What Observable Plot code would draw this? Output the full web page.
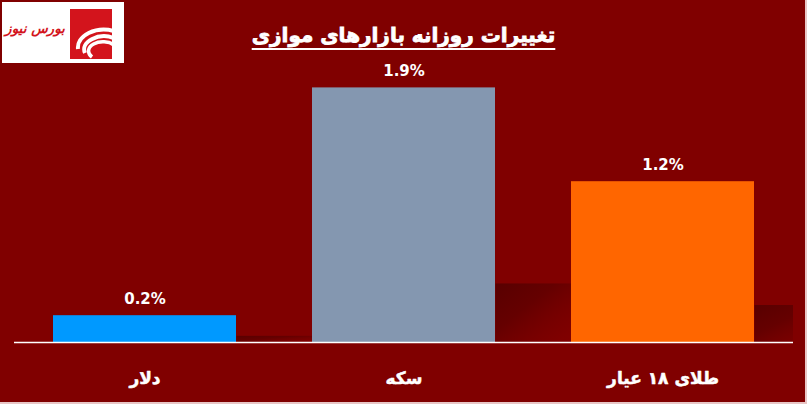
<!DOCTYPE html>
<html>
<head>
<meta charset="utf-8">
<script src="https://cdn.jsdelivr.net/npm/d3@7"></script>
<script src="https://cdn.jsdelivr.net/npm/@observablehq/plot@0.6"></script>
<style>
  html, body { margin: 0; padding: 0; background: #800000; }
  #wrap { position: relative; width: 807px; height: 404px; background: #800000; overflow: hidden; font-family: "DejaVu Sans", sans-serif; }
  #header { position: relative; height: 60px; }
  #title { position: absolute; left: 0; right: 0; top: 23px; text-align: center; color: #fff; font-weight: bold; font-size: 20px; direction: rtl; -webkit-text-stroke: 0.8px #fff; }
  #title span { text-decoration: underline; text-decoration-thickness: 2px; text-underline-offset: 6px; }
  #logo { position: absolute; left: 2px; top: 2px; width: 122px; height: 61px; background: #fff; }
  #logo .txt { position: absolute; left: 1px; top: 18px; width: 64px; text-align: center; color: #d3141c; font-weight: bold; font-style: italic; font-size: 13.5px; direction: rtl; white-space: nowrap; letter-spacing: -0.5px; }
  #logo svg { position: absolute; left: 68px; top: 7px; }
  #bR { position: absolute; right: 0; top: 0; width: 2px; height: 404px; background: #e8c6c6; }
  #bB { position: absolute; left: 0; bottom: 0; width: 807px; height: 2px; background: #e8c6c6; }
  svg.plot { display: block; }
</style>
</head>
<body>
<div id="wrap">
  <div id="header">
    <div id="logo">
      <div class="txt">بورس نیوز</div>
      <svg width="44" height="50" viewBox="0 0 44 50">
        <rect x="0" y="0" width="42" height="50" fill="#d3141c"/>
        <path d="M44 22 A 26 18 0 0 0 8 40" fill="none" stroke="#fff" stroke-width="4"/>
        <path d="M44 29 A 20 13 0 0 0 15 44" fill="none" stroke="#fff" stroke-width="4"/>
        <path d="M44 36 A 14 9 0 0 0 22 48" fill="none" stroke="#fff" stroke-width="3.5"/>
      </svg>
    </div>
    <div id="title"><span>تغییرات روزانه بازارهای موازی</span></div>
  </div>
  <div id="chart"></div>
  <div id="bR"></div>
  <div id="bB"></div>
</div>
<script>
const categories = ["دلار", "سکه", "طلای ۱۸ عیار"];
const values = [0.2, 1.9, 1.2];
const colors = ["#0099ff", "#8497b0", "#ff6600"];
const shadowRatio = 0.23;

const data = categories.map((c, i) => ({cat: c, v: values[i], color: colors[i]}));

const chart = Plot.plot({
  width: 807,
  height: 344,
  marginLeft: 14,
  marginRight: 14,
  marginTop: 14,
  marginBottom: 62,
  style: {background: "transparent", overflow: "visible"},
  x: {domain: categories, paddingInner: 0.2935, paddingOuter: 0.146, axis: null},
  y: {domain: [0, 2], axis: null},
  marks: [
    Plot.barY(data, {
      x: "cat", y: d => d.v * shadowRatio,
      fill: "url(#shadowGrad)",
      insetLeft: 53.6, insetRight: 53.6, dx: 129.9,
      clip: true
    }),
    Plot.barY(data, {x: "cat", y: "v", fill: "color"}),
    Plot.ruleY([0], {stroke: "#fff", strokeWidth: 1.5}),
    Plot.text(data, {
      x: "cat", y: "v", text: d => d.v.toFixed(1) + "%",
      dy: -17, fill: "#fff", fontSize: 15, fontWeight: "bold",
      fontFamily: "DejaVu Sans", lineAnchor: "middle"
    }),
    Plot.text(data, {
      x: "cat", y: 0, text: "cat",
      dy: 36, fill: "#fff", fontSize: 17, fontWeight: "bold",
      fontFamily: "DejaVu Sans", lineAnchor: "middle",
      stroke: "#fff", strokeWidth: 0.5
    })
  ]
});

const ns = "http://www.w3.org/2000/svg";
const defs = document.createElementNS(ns, "defs");
defs.innerHTML = `<linearGradient id="shadowGrad" x1="0" y1="0" x2="1" y2="1" gradientUnits="objectBoundingBox">
  <stop offset="0" stop-color="#580000" stop-opacity="1"/>
  <stop offset="0.4" stop-color="#620000" stop-opacity="0.9"/>
  <stop offset="0.85" stop-color="#700000" stop-opacity="0.2"/>
  <stop offset="1" stop-color="#800000" stop-opacity="0"/>
</linearGradient>`;
chart.insertBefore(defs, chart.firstChild);
document.getElementById("chart").appendChild(chart);
</script>
</body>
</html>
